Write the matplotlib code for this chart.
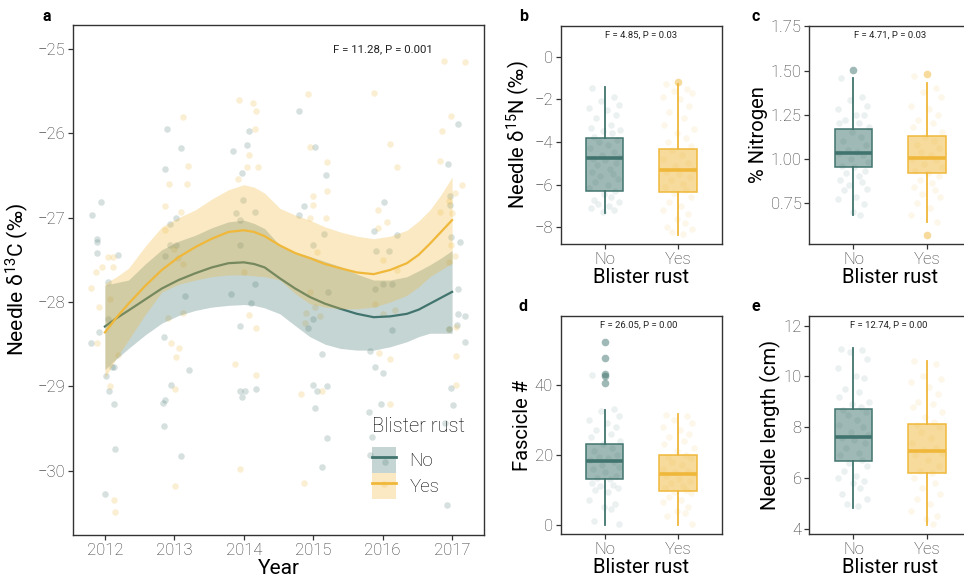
import numpy as np
import matplotlib
matplotlib.use('Agg')
import matplotlib.pyplot as plt
from matplotlib.patches import Patch
from matplotlib.lines import Line2D

plt.rcParams['font.family'] = ['Roboto', 'DejaVu Sans']
plt.rcParams['font.weight'] = 'light'
plt.rcParams['mathtext.fontset'] = 'custom'
plt.rcParams['mathtext.rm'] = 'Roboto:light'
plt.rcParams['mathtext.default'] = 'regular'

TEAL = '#41746e'
GOLD = '#f0b83a'
INK = '#333333'
TICK = '#333333'

# ---- panel a: needle d13C by year (jittered points) ----
no_year = [2011.81, 2011.95, 2011.88, 2011.88, 2011.88, 2012.19, 2012.04, 2011.91, 2011.80, 2012.05,
           2012.10, 2012.13, 2012.02, 2012.06, 2012.13, 2012.15, 2012.00,
           2012.90, 2013.10, 2012.87, 2013.03, 2012.94, 2012.94, 2013.02, 2012.87, 2013.15, 2012.85,
           2013.21, 2012.95, 2012.87, 2012.83, 2012.85, 2013.10,
           2014.08, 2014.04, 2013.84, 2013.97, 2013.99, 2013.89, 2014.16, 2013.94, 2013.94, 2014.16,
           2013.81, 2014.11, 2013.95, 2014.17, 2013.94, 2014.02, 2013.97,
           2014.80, 2015.03, 2015.19, 2014.87, 2014.80, 2015.16, 2015.00, 2015.21, 2015.00, 2014.92,
           2015.13, 2015.20, 2014.99, 2015.06, 2015.02, 2015.20, 2015.12,
           2016.02, 2015.88, 2016.20, 2015.91, 2016.09, 2016.00, 2016.13, 2015.89, 2016.13, 2015.82,
           2015.89, 2016.00, 2015.98, 2015.80, 2015.84, 2015.82, 2016.03,
           2017.08, 2016.94, 2016.97, 2016.97, 2016.99, 2017.12, 2017.09, 2017.08, 2017.18, 2017.07,
           2016.96, 2017.19, 2016.98, 2017.01, 2016.90, 2016.93]
no_d13c = [-26.97, -26.82, -27.25, -27.29, -27.42, -27.44, -27.76, -28.36, -28.49, -28.20,
           -28.77, -28.77, -28.88, -29.05, -29.21, -29.74, -30.27,
           -25.95, -26.18, -26.43, -27.01, -27.08, -27.33, -27.33, -27.46, -27.93, -28.42,
           -28.81, -28.98, -29.16, -29.20, -29.47, -29.83,
           -25.97, -26.14, -26.21, -26.47, -26.79, -26.95, -26.93, -27.03, -27.32, -27.79,
           -27.91, -28.01, -28.29, -29.03, -29.06, -29.05, -29.13,
           -25.74, -26.16, -26.50, -26.86, -26.97, -27.20, -27.33, -27.88, -28.20, -28.31,
           -28.62, -29.00, -28.98, -29.06, -29.26, -29.61, -29.96,
           -26.82, -27.16, -27.21, -27.39, -27.39, -27.79, -27.79, -27.85, -28.33, -28.58,
           -28.77, -28.84, -29.21, -29.30, -29.60, -29.81, -29.89,
           -25.89, -26.37, -26.75, -26.85, -27.23, -27.29, -27.85, -28.14, -28.17, -28.27,
           -28.32, -28.47, -29.02, -29.22, -29.43, -30.40]
yes_year = [2012.04, 2012.12, 2011.87, 2011.96, 2012.12, 2011.80, 2011.91, 2011.89, 2012.07, 2012.07,
            2012.13, 2012.15, 2012.19,
            2013.12, 2013.20, 2012.93, 2013.18, 2012.87, 2013.09, 2012.87, 2012.99, 2013.05, 2013.12,
            2013.12, 2012.91, 2012.95, 2013.07, 2013.02, 2013.01, 2013.01,
            2013.93, 2014.13, 2014.17, 2014.16, 2014.08, 2014.05, 2014.20, 2013.92, 2014.00, 2014.08,
            2014.17, 2013.87, 2014.18, 2013.94,
            2014.93, 2014.96, 2015.20, 2015.20, 2014.99, 2015.00, 2015.19, 2014.95, 2015.05, 2014.95,
            2015.02, 2015.10, 2014.90, 2014.88, 2015.13, 2014.82, 2014.87,
            2015.87, 2016.11, 2016.20, 2015.94, 2016.06, 2015.94, 2016.00, 2016.20, 2015.89, 2016.18,
            2016.00, 2015.95, 2016.10, 2016.10, 2016.02,
            2016.89, 2017.18, 2016.99, 2016.86, 2016.83, 2017.14, 2017.04, 2016.95, 2016.83, 2017.00,
            2016.98, 2017.04, 2016.96, 2016.95, 2017.05, 2017.05, 2017.05]
yes_d13c = [-27.47, -27.47, -27.65, -27.59, -27.58, -27.84, -28.06, -28.49, -27.96, -29.00,
            -30.34, -30.49, -28.63,
            -25.81, -26.39, -26.60, -26.60, -26.86, -26.93, -27.15, -27.37, -27.48, -27.55,
            -28.13, -28.19, -28.48, -28.55, -28.65, -29.03, -30.18,
            -25.61, -25.64, -25.74, -25.95, -26.26, -26.40, -26.40, -26.54, -27.64, -28.15,
            -28.31, -28.73, -28.87, -29.98,
            -25.54, -26.16, -26.34, -26.69, -26.75, -26.85, -27.00, -27.00, -27.41, -27.88,
            -28.06, -28.16, -28.13, -28.25, -29.06, -29.09, -30.15,
            -25.52, -26.13, -26.40, -26.91, -27.05, -27.12, -27.50, -27.62, -28.02, -28.10,
            -28.14, -28.60, -28.67, -29.21, -30.16,
            -25.15, -25.16, -25.80, -25.98, -26.33, -26.61, -26.71, -26.80, -26.93, -26.95,
            -27.33, -27.45, -27.53, -28.32, -28.30, -28.64, -28.98]

# smoothed fits, with confidence bands
smooth_year = [2012.0, 2012.17, 2012.34, 2012.58, 2012.82, 2013.06, 2013.3, 2013.54, 2013.78,
               2014.0, 2014.15, 2014.3, 2014.52, 2014.74, 2014.95, 2015.17, 2015.39, 2015.63,
               2015.87, 2016.11, 2016.35, 2016.52, 2016.68, 2016.84, 2017.0]
no_fit = [-28.29, -28.19, -28.10, -27.97, -27.84, -27.74, -27.66, -27.59, -27.54,
          -27.53, -27.55, -27.59, -27.72, -27.84, -27.94, -28.02, -28.08, -28.14,
          -28.18, -28.17, -28.14, -28.09, -28.02, -27.95, -27.88]
no_lo = [-28.80, -28.67, -28.55, -28.39, -28.25, -28.16, -28.10, -28.06, -28.04,
         -28.03, -28.04, -28.07, -28.14, -28.28, -28.41, -28.50, -28.55, -28.57,
         -28.57, -28.53, -28.47, -28.41, -28.37, -28.37, -28.37]
no_hi = [-27.80, -27.77, -27.74, -27.55, -27.38, -27.28, -27.21, -27.12, -27.05,
         -27.03, -27.07, -27.13, -27.33, -27.41, -27.46, -27.52, -27.58, -27.67,
         -27.74, -27.74, -27.70, -27.63, -27.56, -27.48, -27.39]
yes_fit = [-28.36, -28.18, -28.02, -27.81, -27.62, -27.47, -27.35, -27.25, -27.17,
           -27.15, -27.17, -27.22, -27.33, -27.42, -27.48, -27.55, -27.60, -27.65,
           -27.67, -27.62, -27.54, -27.44, -27.31, -27.17, -27.03]
yes_lo = [-28.90, -28.66, -28.45, -28.15, -27.88, -27.79, -27.74, -27.70, -27.68,
          -27.68, -27.69, -27.70, -27.74, -27.90, -28.02, -28.06, -28.08, -28.08,
          -28.06, -28.00, -27.92, -27.82, -27.70, -27.62, -27.54]
yes_hi = [-27.78, -27.70, -27.60, -27.34, -27.11, -27.00, -26.91, -26.78, -26.67,
          -26.61, -26.64, -26.71, -26.89, -26.97, -27.03, -27.11, -27.17, -27.22,
          -27.25, -27.22, -27.15, -27.04, -26.91, -26.73, -26.52]

# ---- panels b-e: jittered raw values ----
b_no = [-1.45, -1.9, -2.1, -2.25, -2.4, -2.5, -2.75, -2.9, -3.2, -3.35, -3.45, -3.5, -3.6, -3.75,
        -3.9, -4.0, -4.15, -4.3, -4.45, -4.6, -4.7, -4.8, -4.85, -5.0, -5.1, -5.25, -5.4, -5.5,
        -5.6, -5.75, -5.9, -6.0, -6.15, -6.3, -6.45, -6.6, -6.7, -6.8, -6.9, -7.0, -7.1, -7.2, -7.3]
b_yes = [-1.3, -1.5, -1.6, -1.7, -1.9, -2.0, -2.3, -2.6, -2.9, -3.2, -3.4, -3.6, -3.8, -4.0,
         -4.2, -4.4, -4.6, -4.8, -5.0, -5.15, -5.3, -5.4, -5.5, -5.65, -5.8, -5.95, -6.1, -6.25,
         -6.4, -6.6, -6.8, -7.0, -7.2, -7.4, -7.6, -7.8, -8.0, -8.1, -8.2, -8.3]
c_no = [1.46, 1.35, 1.33, 1.3, 1.28, 1.25, 1.25, 1.22, 1.2, 1.2, 1.18, 1.15, 1.12, 1.1, 1.08,
        1.05, 1.04, 1.03, 1.02, 1.0, 0.98, 0.96, 0.95, 0.93, 0.92, 0.9, 0.88, 0.87, 0.85, 0.83,
        0.82, 0.78, 0.77, 0.74, 0.7, 0.68]
c_yes = [1.47, 1.4, 1.38, 1.35, 1.3, 1.28, 1.25, 1.22, 1.2, 1.18, 1.15, 1.12, 1.1, 1.08, 1.06,
         1.04, 1.02, 1.0, 0.99, 0.97, 0.95, 0.93, 0.92, 0.9, 0.88, 0.86, 0.84, 0.82, 0.8, 0.78,
         0.75, 0.72, 0.68, 0.64]
d_no = [42.8, 33, 32.5, 31, 30, 29, 28, 27, 26, 25, 24, 23, 22, 21, 20, 19.5, 19, 18.5, 18, 17,
        16.5, 16, 15, 14, 13.5, 13, 12, 11.5, 11, 10.5, 10, 9.5, 7, 6, 5, 4.5, 1, 0.3]
d_yes = [31.5, 31, 30, 29, 28, 27, 26, 25, 24, 23, 22, 21, 20, 19.5, 19, 18, 17, 16, 15.5, 15,
         14.5, 14, 13, 12.5, 12, 11, 10.5, 10, 9.5, 9, 8, 7, 6.5, 5, 4, 3.5, 2.5, 0.3]
e_no = [11.1, 11.05, 10.95, 10.7, 10.35, 10.0, 9.95, 9.5, 9.4, 9.2, 9.0, 8.9, 8.8, 8.7, 8.6,
        8.5, 8.3, 8.1, 8.0, 7.8, 7.7, 7.6, 7.5, 7.4, 7.2, 7.0, 6.9, 6.7, 6.6, 6.5, 6.3, 6.1, 6.0,
        5.9, 5.8, 5.6, 5.4, 5.2, 5.0, 4.9]
e_yes = [10.6, 10.5, 10.0, 9.9, 9.8, 9.6, 9.3, 9.0, 8.9, 8.8, 8.6, 8.4, 8.2, 8.1, 8.0, 7.8, 7.6,
         7.4, 7.2, 7.1, 7.0, 6.9, 6.7, 6.5, 6.3, 6.2, 6.0, 5.8, 5.6, 5.4, 5.2, 5.0, 4.7, 4.5,
         4.4, 4.2]
jit = [-0.17, 0.12, -0.05, 0.19, -0.21, 0.03, 0.15, -0.12, 0.08, -0.19, 0.21, -0.02, 0.1, -0.14,
       0.17, -0.08, 0.05, -0.2, 0.13, -0.04, 0.2, -0.16, 0.01, 0.16, -0.1, 0.07, -0.18, 0.11,
       -0.06, 0.18, -0.13, 0.04, -0.21, 0.14, -0.01, 0.09, -0.15, 0.19, -0.09, 0.06, -0.19, 0.12,
       -0.03, 0.17, -0.11]

# box summaries: q1, median, q3, whisker low, whisker high, outliers
box_b = [(-6.29, -4.77, -3.82, -7.32, -1.44, []), (-6.34, -5.33, -4.32, -8.36, -1.28, [-1.2])]
box_c = [(0.955, 1.03, 1.167, 0.68, 1.457, [1.502]), (0.917, 1.004, 1.131, 0.639, 1.428, [1.481, 0.568])]
box_d = [(13.2, 18.3, 23.2, 0.0, 32.9, [52.4, 47.6, 43.0, 42.6, 40.7]), (9.6, 14.6, 19.9, 0.1, 31.6, [])]
box_e = [(6.68, 7.63, 8.73, 4.85, 11.11, []), (6.22, 7.06, 8.15, 4.17, 10.61, [])]

groups = ['No', 'Yes']
colors = [TEAL, GOLD]


def style_axis(ax):
    for s in ax.spines.values():
        s.set_color(INK)
        s.set_linewidth(1.0)
    ax.tick_params(direction='out', length=3.5, width=0.9, color=INK,
                   labelcolor=TICK, labelsize=12, pad=2)


def box_panel(ax, boxes, raw, ylabel, ylim, yticks, ytl, note, note_x):
    for i, (b, vals) in enumerate(zip(boxes, raw)):
        q1, med, q3, lo, hi, fl = b
        st = [dict(q1=q1, med=med, q3=q3, whislo=lo, whishi=hi, fliers=fl)]
        c = colors[i]
        ax.bxp(st, positions=[i + 1], widths=0.51, patch_artist=True, showcaps=False,
               boxprops=dict(facecolor=matplotlib.colors.to_rgba(c, 0.5), edgecolor=c, linewidth=1.1),
               whiskerprops=dict(color=c, linewidth=1.3),
               medianprops=dict(color=c, linewidth=2.6, solid_capstyle='butt'),
               flierprops=dict(marker='o', markersize=5.5, markerfacecolor=c,
                               markeredgecolor='none', alpha=0.5))
        xs = [i + 1 + jit[k % len(jit)] for k in range(len(vals))]
        ax.scatter(xs, vals, s=22, color=c, alpha=0.1, linewidths=0, zorder=3)
    ax.set_xlim(0.4, 2.6)
    ax.set_ylim(*ylim)
    ax.set_xticks([1, 2])
    ax.set_xticklabels(groups)
    ax.set_yticks(yticks)
    ax.set_yticklabels(ytl)
    ax.set_xlabel('Blister rust', fontsize=14.5, labelpad=1)
    ax.set_ylabel(ylabel, fontsize=14.5, labelpad=2)
    ax.text(note_x, 0.955, note, transform=ax.transAxes, ha='center', va='center',
            fontsize=6.8, color='#222222', fontweight='normal')
    style_axis(ax)


fig = plt.figure(figsize=(9.64, 5.82), dpi=100)

# panel a
ax = fig.add_axes([0.0757, 0.0808, 0.4264, 0.876])
ax.scatter(no_year, no_d13c, s=22, color=TEAL, alpha=0.22, linewidths=0, zorder=1)
ax.scatter(yes_year, yes_d13c, s=22, color=GOLD, alpha=0.22, linewidths=0, zorder=1)
ax.fill_between(smooth_year, no_lo, no_hi, color=TEAL, alpha=0.3, linewidth=0, zorder=2)
ax.plot(smooth_year, no_fit, color=TEAL, lw=1.6, zorder=2)
ax.fill_between(smooth_year, yes_lo, yes_hi, color=GOLD, alpha=0.3, linewidth=0, zorder=2)
ax.plot(smooth_year, yes_fit, color=GOLD, lw=1.6, zorder=2)
ax.set_xlim(2011.54, 2017.46)
ax.set_ylim(-30.76, -24.72)
ax.set_xticks([2012, 2013, 2014, 2015, 2016, 2017])
ax.set_yticks([-30, -29, -28, -27, -26, -25])
ax.set_xlabel('Year', fontsize=15, labelpad=1)
ax.set_ylabel('Needle δ$^{13}$C (‰)', fontsize=15, labelpad=5)
ax.text(0.754, 0.953, 'F = 11.28, P = 0.001', transform=ax.transAxes, ha='center',
        va='center', fontsize=8.2, color='#222222', fontweight='normal')
style_axis(ax)
handles = [(Patch(facecolor=TEAL, alpha=0.3, edgecolor='none'), Line2D([], [], color=TEAL, lw=2)),
           (Patch(facecolor=GOLD, alpha=0.3, edgecolor='none'), Line2D([], [], color=GOLD, lw=2))]
leg = ax.legend(handles, groups, title='Blister rust', loc='lower right',
                bbox_to_anchor=(0.985, 0.045), frameon=False, fontsize=13.5,
                title_fontsize=14.5, handlelength=1.3, handleheight=1.75,
                labelspacing=0.0, handletextpad=0.7, borderpad=0.2)
leg._legend_box.align = 'left'
leg._legend_box.sep = 8

# panel b
ax = fig.add_axes([0.5816, 0.5802, 0.1676, 0.3756])
box_panel(ax, box_b, [b_no, b_yes], 'Needle δ$^{15}$N (‰)', (-8.8, 1.45),
          [-8, -6, -4, -2, 0], ['−8', '−6', '−4', '−2', '0'], 'F = 4.85, P = 0.03', 0.5)

# panel c
ax = fig.add_axes([0.8396, 0.5802, 0.1676, 0.3756])
box_panel(ax, box_c, [c_no, c_yes], '% Nitrogen', (0.514, 1.754),
          [0.75, 1.0, 1.25, 1.5, 1.75], ['0.75', '1.00', '1.25', '1.50', '1.75'],
          'F = 4.71, P = 0.03', 0.5)

# panel d
ax = fig.add_axes([0.5816, 0.082, 0.1676, 0.3756])
box_panel(ax, box_d, [d_no, d_yes], 'Fascicle #', (-2.66, 59.8),
          [0, 20, 40], ['0', '20', '40'], 'F = 26.05, P = 0.00', 0.485)

# panel e
ax = fig.add_axes([0.8396, 0.082, 0.1676, 0.3756])
box_panel(ax, box_e, [e_no, e_yes], 'Needle length (cm)', (3.80, 12.39),
          [4, 6, 8, 10, 12], ['4', '6', '8', '10', '12'], 'F = 12.74, P = 0.00', 0.49)

for lab, x, y in [('a', 0.049, 0.971), ('b', 0.543, 0.971), ('c', 0.784, 0.971),
                  ('d', 0.543, 0.473), ('e', 0.784, 0.473)]:
    fig.text(x, y, lab, fontsize=11.5, fontweight='bold', ha='center', va='center')

fig.savefig('out.png', dpi=100)
